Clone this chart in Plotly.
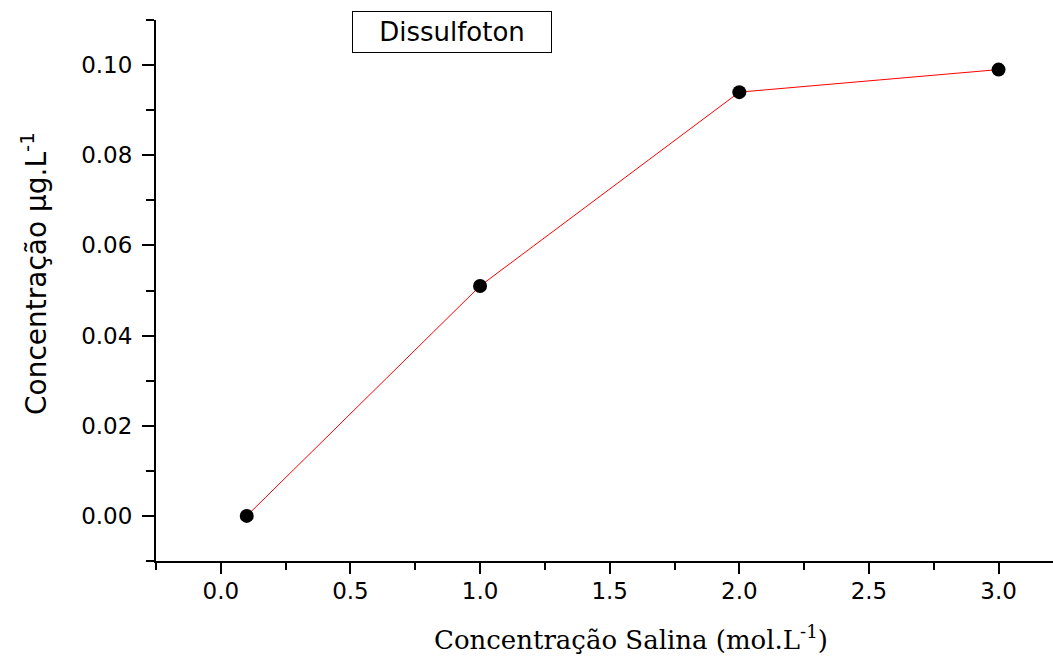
import plotly.graph_objects as go

salt_conc = [0.1, 1.0, 2.0, 3.0]
analyte_conc = [0.0, 0.051, 0.094, 0.099]
series_name = "Dissulfoton"
x_title = "Concentração Salina (mol.L<sup>-1</sup>)"
y_title = "Concentração µg.L<sup>-1</sup>"

SANS = "DejaVu Sans, Liberation Sans, Arial"
SERIF = "DejaVu Serif, Liberation Serif, Times New Roman"

fig = go.Figure()
fig.add_trace(go.Scatter(
    x=salt_conc, y=analyte_conc, mode="lines+markers",
    line=dict(color="red", width=1),
    marker=dict(color="black", size=14, symbol="circle"),
    showlegend=False,
))

fig.update_layout(
    width=1053, height=659,
    margin=dict(l=156, r=0, t=20, b=98),
    plot_bgcolor="white", paper_bgcolor="white",
    font=dict(family=SANS, color="black"),
    xaxis=dict(
        range=[-0.25, 3.21], showgrid=False, zeroline=False,
        showline=True, linecolor="black", linewidth=2,
        ticks="outside", ticklen=11, tickwidth=2, tickcolor="black",
        tick0=0, dtick=0.5, tickformat=".1f",
        ticklabelstandoff=-3,
        tickfont=dict(size=23, family=SANS),
        minor=dict(ticks="outside", ticklen=7, tickwidth=2, tickcolor="black", dtick=0.25, tick0=0),
    ),
    yaxis=dict(
        range=[-0.01, 0.11], showgrid=False, zeroline=False,
        showline=True, linecolor="black", linewidth=2,
        ticks="outside", ticklen=12, tickwidth=2, tickcolor="black",
        tick0=0, dtick=0.02, tickformat=".2f",
        ticklabelstandoff=5,
        tickfont=dict(size=23, family=SANS),
        minor=dict(ticks="outside", ticklen=8, tickwidth=2, tickcolor="black", dtick=0.01, tick0=0),
    ),
    annotations=[
        dict(text=series_name, xref="paper", yref="paper", x=(452 - 156) / 897, y=(561 - 32) / 541,
             showarrow=False, xanchor="center", yanchor="middle",
             width=190, height=32, align="center",
             font=dict(size=26, family=SANS),
             bordercolor="black", borderwidth=1, borderpad=4, bgcolor="white"),
        dict(text=x_title, xref="paper", yref="paper", x=(631 - 156) / 897, y=-(638 - 561) / 541,
             showarrow=False, xanchor="center", yanchor="middle",
             font=dict(size=26, family=SERIF)),
        dict(text=y_title, xref="paper", yref="paper", x=-(156 - 34) / 897, y=(561 - 274) / 541,
             showarrow=False, xanchor="center", yanchor="middle", textangle=-90,
             font=dict(size=28, family=SANS)),
    ],
)

fig.write_html("out.html")
